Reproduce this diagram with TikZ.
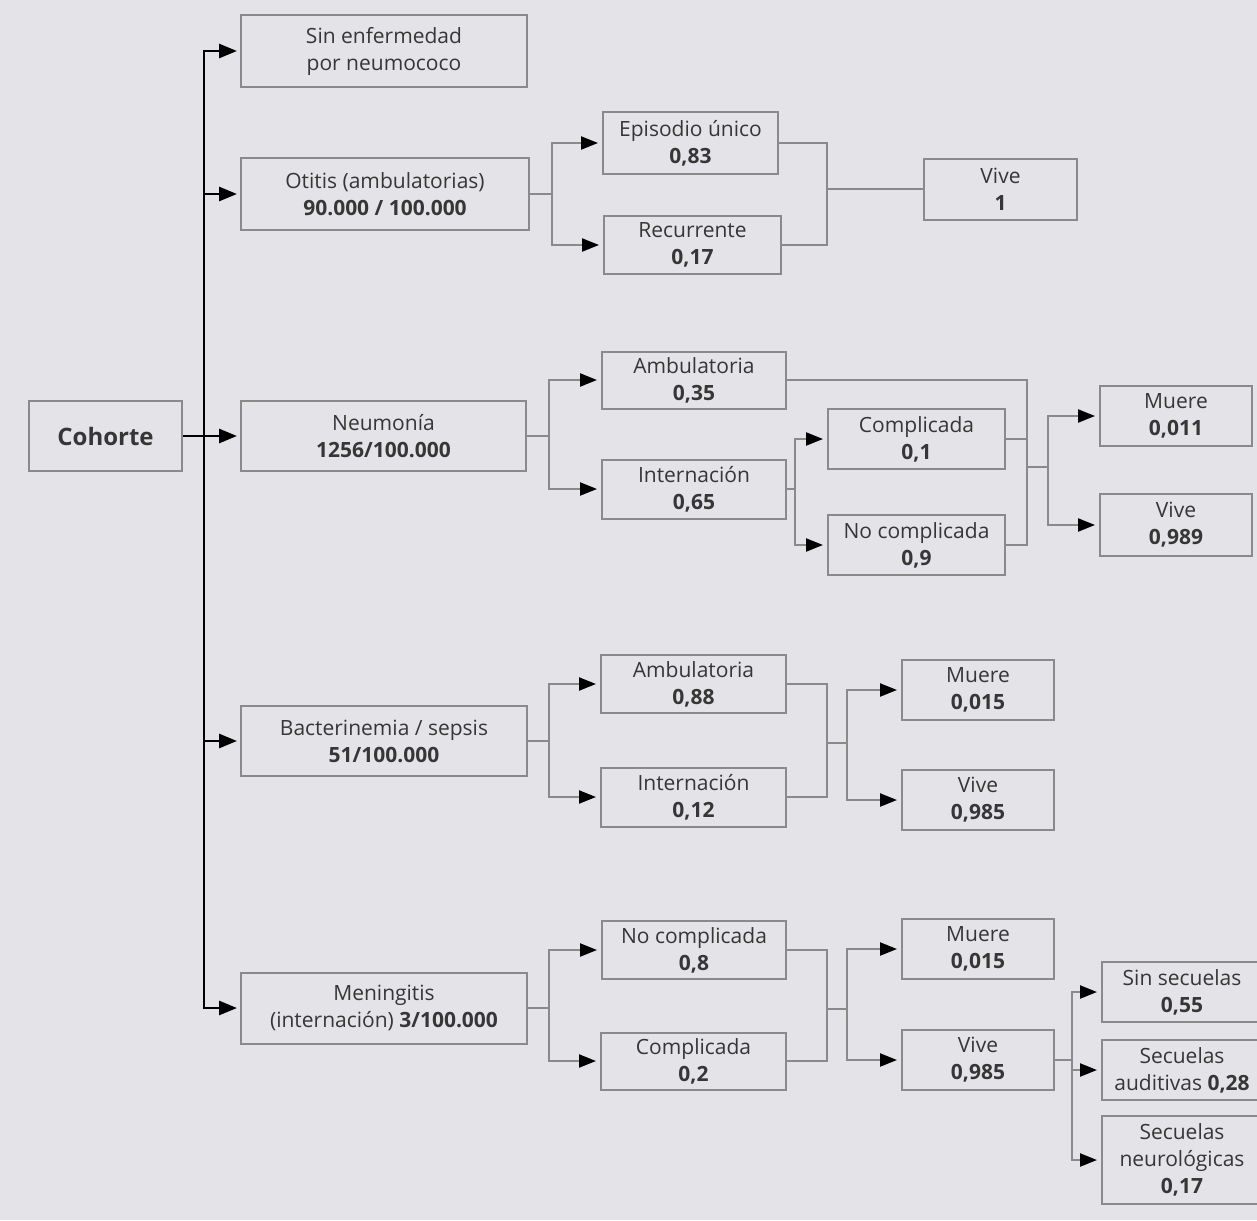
\documentclass[tikz,border=0pt]{standalone}
\usepackage{fontspec}
\setmainfont{Open Sans}
\usetikzlibrary{arrows.meta}
\definecolor{bg}{HTML}{E4E4E8}
\definecolor{bline}{HTML}{8A8A8A}
\definecolor{txt}{HTML}{363636}
\begin{document}
\begin{tikzpicture}[x=1pt,y=-1pt,
  bx/.style={draw=bline, line width=2pt, inner sep=0pt, align=center, text=txt,
    font=\fontsize{21}{27}\selectfont},
  conn/.style={draw=bline, line width=2.2pt},
  carr/.style={conn, shorten >=4pt, -{Triangle[length=17pt,width=13pt,color=black]}},
  trunk/.style={draw=black, line width=2.8pt},
  tarr/.style={trunk, shorten >=3pt, -{Triangle[length=18pt,width=14pt]}}]
\fill[bg] (0,0) rectangle (1257,1220);
\useasboundingbox (0,0) rectangle (1257,1220);

% first level
\node[bx, minimum width=153pt, minimum height=70pt, font=\fontsize{24}{28}\selectfont\bfseries] (coh) at (105.5,436) {Cohorte};
\node[bx, minimum width=286pt, minimum height=72pt] (sin) at (384,51) {Sin enfermedad\\por neumococo};
\node[bx, minimum width=288pt, minimum height=72pt] (oti) at (385,194) {Otitis (ambulatorias)\\\textbf{90.000 / 100.000}};
\node[bx, minimum width=285pt, minimum height=70pt] (neu) at (383.5,436) {Neumonía\\\textbf{1256/100.000}};
\node[bx, minimum width=286pt, minimum height=70pt] (bac) at (384,741) {Bacterinemia / sepsis\\\textbf{51/100.000}};
\node[bx, minimum width=286pt, minimum height=71pt] (men) at (384,1008) {Meningitis\\(internación) \textbf{3/100.000}};

% otitis
\node[bx, minimum width=175pt, minimum height=61pt] (epi) at (690.5,143) {Episodio único\\\textbf{0,83}};
\node[bx, minimum width=177pt, minimum height=58pt] (rec) at (692.5,245) {Recurrente\\\textbf{0,17}};
\node[bx, minimum width=153pt, minimum height=61pt] (viv1) at (1000.5,189) {Vive\\\textbf{1}};

% neumonia
\node[bx, minimum width=184pt, minimum height=57pt] (amb1) at (694,380) {Ambulatoria\\\textbf{0,35}};
\node[bx, minimum width=184pt, minimum height=59pt] (int1) at (694,489) {Internación\\\textbf{0,65}};
\node[bx, minimum width=177pt, minimum height=60pt] (comp1) at (916.5,439) {Complicada\\\textbf{0,1}};
\node[bx, minimum width=177pt, minimum height=60pt] (nc1) at (916.5,545) {No complicada\\\textbf{0,9}};
\node[bx, minimum width=152pt, minimum height=60pt] (mu1) at (1176,416) {Muere\\\textbf{0,011}};
\node[bx, minimum width=152pt, minimum height=62pt] (vi1) at (1176,525) {Vive\\\textbf{0,989}};

% bacterinemia
\node[bx, minimum width=185pt, minimum height=58pt] (amb2) at (693.5,684) {Ambulatoria\\\textbf{0,88}};
\node[bx, minimum width=185pt, minimum height=59pt] (int2) at (693.5,797) {Internación\\\textbf{0,12}};
\node[bx, minimum width=152pt, minimum height=60pt] (mu2) at (978,690) {Muere\\\textbf{0,015}};
\node[bx, minimum width=152pt, minimum height=60pt] (vi2) at (978,800) {Vive\\\textbf{0,985}};

% meningitis
\node[bx, minimum width=184pt, minimum height=58pt] (nc3) at (694,950) {No complicada\\\textbf{0,8}};
\node[bx, minimum width=185pt, minimum height=57pt] (comp3) at (693.5,1061) {Complicada\\\textbf{0,2}};
\node[bx, minimum width=152pt, minimum height=60pt] (mu3) at (978,949) {Muere\\\textbf{0,015}};
\node[bx, minimum width=152pt, minimum height=60pt] (vi3) at (978,1060) {Vive\\\textbf{0,985}};
\node[bx, minimum width=160pt, minimum height=60pt] (ss) at (1182,992) {Sin secuelas\\\textbf{0,55}};
\node[bx, minimum width=160pt, minimum height=60pt] (sa) at (1182,1070) {Secuelas\\auditivas \textbf{0,28}};
\node[bx, minimum width=160pt, minimum height=88pt] (sn) at (1182,1160) {Secuelas\\neurológicas\\\textbf{0,17}};

% trunk
\coordinate (tk) at (204,436);
\draw[tarr] (tk) |- (sin.west);
\draw[tarr] (tk) |- (oti.west);
\draw[tarr] (tk) |- (bac.west);
\draw[tarr] (tk) |- (men.west);
\draw[tarr] (coh.east) -- (neu.west);

% otitis forks
\coordinate (f1) at (552,194);
\draw[conn] (oti.east) -- (f1);
\draw[carr] (f1) |- (epi.west);
\draw[carr] (f1) |- (rec.west);
\coordinate (m1) at (827,189);
\draw[conn] (epi.east) -| (m1);
\draw[conn] (rec.east) -| (m1);
\draw[conn] (m1) -- (viv1.west);

% neumonia
\coordinate (f2) at (549,436);
\draw[conn] (neu.east) -- (f2);
\draw[carr] (f2) |- (amb1.west);
\draw[carr] (f2) |- (int1.west);
\coordinate (f3) at (795,489);
\draw[conn] (int1.east) -- (f3);
\draw[carr] (f3) |- (comp1.west);
\draw[carr] (f3) |- (nc1.west);
\coordinate (m2) at (1027,467);
\draw[conn] (amb1.east) -| (m2);
\draw[conn] (nc1.east) -| (m2);
\draw[conn] (comp1.east) -- (comp1.east -| m2);
\coordinate (f4) at (1048,467);
\draw[conn] (m2) -- (f4);
\draw[carr] (f4) |- (mu1.west);
\draw[carr] (f4) |- (vi1.west);

% bacterinemia
\coordinate (f5) at (549,741);
\draw[conn] (bac.east) -- (f5);
\draw[carr] (f5) |- (amb2.west);
\draw[carr] (f5) |- (int2.west);
\coordinate (m3) at (827,743);
\draw[conn] (amb2.east) -| (m3);
\draw[conn] (int2.east) -| (m3);
\coordinate (f6) at (847,743);
\draw[conn] (m3) -- (f6);
\draw[carr] (f6) |- (mu2.west);
\draw[carr] (f6) |- (vi2.west);

% meningitis
\coordinate (f7) at (549,1008);
\draw[conn] (men.east) -- (f7);
\draw[carr] (f7) |- (nc3.west);
\draw[carr] (f7) |- (comp3.west);
\coordinate (m4) at (827,1009);
\draw[conn] (nc3.east) -| (m4);
\draw[conn] (comp3.east) -| (m4);
\coordinate (f8) at (847,1009);
\draw[conn] (m4) -- (f8);
\draw[carr] (f8) |- (mu3.west);
\draw[carr] (f8) |- (vi3.west);
\coordinate (f9) at (1072,1060);
\draw[conn] (vi3.east) -- (f9);
\draw[carr] (f9) |- (ss.west);
\draw[carr] (f9) |- (sa.west);
\draw[carr] (f9) |- (sn.west);
\end{tikzpicture}
\end{document}
